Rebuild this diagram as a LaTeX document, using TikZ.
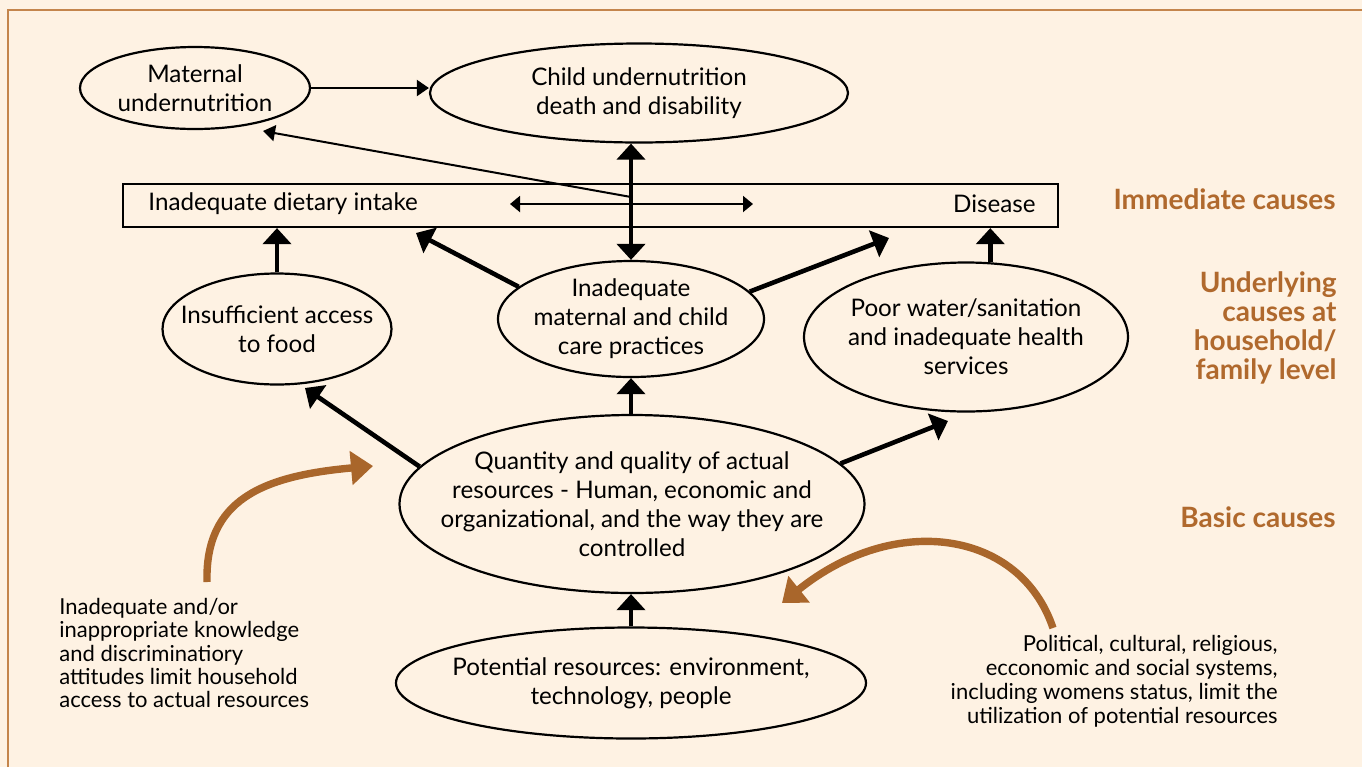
\documentclass[tikz,border=0pt]{standalone}
\usepackage{fontspec}
\setmainfont{Lato}
\usetikzlibrary{shapes.geometric,arrows.meta}
\definecolor{paper}{HTML}{FEF2E3}
\definecolor{rust}{HTML}{A9662B}
\definecolor{rusttext}{HTML}{B0692D}
\definecolor{framecol}{HTML}{C4854C}
\newcommand\bodysz{\fontsize{12.1}{14.5}\selectfont}
\newcommand\notesz{\fontsize{11}{11.7}\selectfont}
\newcommand\rnotesz{\fontsize{11}{12}\selectfont}
\newcommand\levelsz{\fontsize{14}{14.5}\selectfont\bfseries}

\begin{document}
\begin{tikzpicture}[x=0.5pt,y=-0.5pt,
  oval/.style={ellipse,draw,line width=1.1pt,inner sep=0pt},
  intext/.style={inner sep=0pt,align=center,font=\bodysz},
  plain/.style={inner sep=0pt,font=\bodysz},
  level/.style={inner sep=0pt,align=right,text=rusttext,font=\levelsz},
  thinarrow/.style={line width=1pt,-{Triangle[width=8pt,length=6pt]}},
  thinboth/.style={line width=1pt,{Triangle[width=8pt,length=5pt]}-{Triangle[width=8pt,length=5pt]}},
  thickarrow/.style={line width=2.3pt,-{Triangle[width=14pt,length=8pt]}},
  thickboth/.style={line width=2.3pt,{Triangle[width=14pt,length=8pt]}-{Triangle[width=14pt,length=8pt]}},
  curvearrow/.style={draw=rust,line width=3.7pt,-{Triangle[width=16.5pt,length=11pt]}}
]
% page and frame
\fill[paper] (0,0) rectangle (1362,767);
\useasboundingbox (0,0) rectangle (1362,767);
\draw[framecol,line width=1pt] (8,767) -- (8,10) -- (1362,10);

% immediate level
\node[oval,minimum width=115pt,minimum height=41pt,
      label={[intext]center:{Maternal\\undernutrition}}] (mat) at (195,88) {};
\node[oval,minimum width=209pt,minimum height=49.5pt,
      label={[intext]center:{Child undernutrition\\death and disability}}] (child) at (639,93) {};
\node[draw,line width=1.1pt,rectangle,minimum width=467.5pt,minimum height=21.5pt,inner sep=0pt] (box) at (590.5,205.5) {};
\node[plain,anchor=west] (diet) at (148,204) {Inadequate dietary intake};
\node[plain,anchor=east] (dis) at (1036,204) {Disease};

% underlying level
\node[oval,minimum width=114.5pt,minimum height=55.5pt,
      label={[intext]center:{Insufficient access\\to food}}] (food) at (277,329) {};
\node[oval,minimum width=133pt,minimum height=58pt,
      label={[intext]center:{Inadequate\\maternal and child\\care practices}}] (care) at (631,319) {};
\node[oval,minimum width=162pt,minimum height=74.5pt,
      label={[intext]center:{Poor water/sanitation\\and inadequate health\\services}}] (water) at (966,337) {};

% basic level
\node[oval,minimum width=232.5pt,minimum height=89pt,
      label={[intext]center:{Quantity and quality of actual\\resources - Human, economic and\\organizational, and the way they are\\controlled}}] (res) at (632,504) {};
\node[oval,minimum width=235pt,minimum height=55.5pt,
      label={[intext]center:{Potential resources: environment,\\technology, people}}] (pot) at (631,683) {};

% level labels
\node[level,anchor=east] (lvimm) at (1336,199) {Immediate causes};
\node[level,anchor=east] (lvund) at (1337,328) {Underlying\\causes at\\household/\\family level};
\node[level,anchor=east] (lvbas) at (1336,517) {Basic causes};

% side notes
\node[inner sep=0pt,font=\notesz,anchor=west,align=left] (noteL) at (59,653) {Inadequate and/or\\inappropriate knowledge\\and discriminatiory\\attitudes limit household\\access to actual resources};
\node[inner sep=0pt,font=\rnotesz,anchor=east,align=right] (noteR) at (1278,681) {Political, cultural, religious,\\ecconomic and social systems,\\including womens status, limit the\\utilization of potential resources};

% free ends of connectors
\coordinate (junction) at (631,197);
\coordinate (mattip) at (263,131);
\coordinate (dl) at (510,204);
\coordinate (dr) at (753,204);
\coordinate (boxL) at (416,233);
\coordinate (boxR) at (889,238);
\coordinate (foodtip) at (305,388);
\coordinate (watertip) at (948,421);
\coordinate (ltail) at (207,582);
\coordinate (lhead) at (373,466);
\coordinate (rtail) at (1053,628);
\coordinate (rhead) at (782,603);

% thin connectors
\draw[thinarrow] (mat.east) -- (mat.east -| child.west);
\draw[thinarrow] (junction) -- (mattip);
\draw[thinboth] (dl) -- (dr);

% thick connectors
\draw[thickboth] (care.north |- child.south) -- (care.north);
\draw[thickarrow] (food.north) -- (food.north |- box.south);
\draw[thickarrow] (care.164) -- (boxL);
\draw[thickarrow] (care.13) -- (boxR);
\draw[thickarrow] (water.72) -- (water.72 |- box.south);
\draw[thickarrow] (care.south |- res.north) -- (care.south);
\draw[thickarrow] (res.170) -- (foodtip);
\draw[thickarrow] (res.11) -- (watertip);
\draw[thickarrow] (care.south |- pot.north) -- (care.south |- res.south);

% curved influence arrows
\draw[curvearrow] (ltail) .. controls (205,500) and (262,476) .. (lhead);
\draw[curvearrow] (rtail) .. controls (1020,530) and (895,512) .. (rhead);
\end{tikzpicture}
\end{document}
